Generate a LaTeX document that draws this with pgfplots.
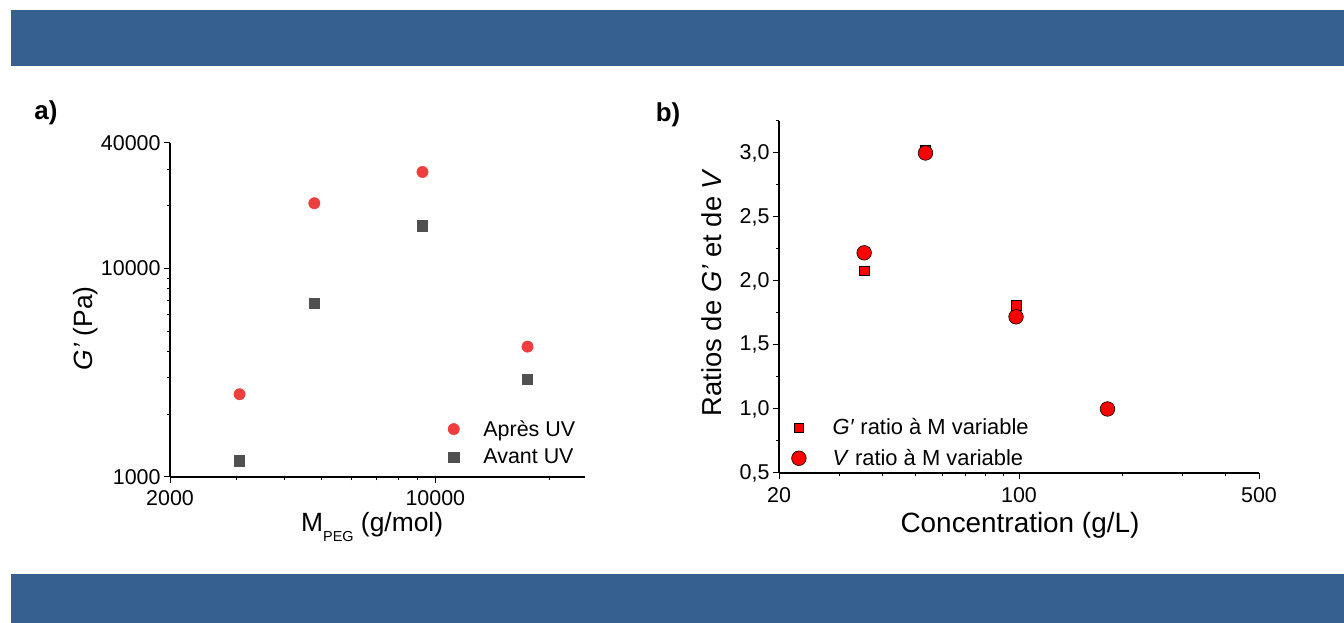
\documentclass[border=0pt]{standalone}
\usepackage{fontspec}
\setmainfont{Liberation Sans}
\usepackage{pgfplots}
\pgfplotsset{compat=1.18}

\definecolor{barblue}{RGB}{54,96,143}
\definecolor{ptred}{RGB}{239,62,64}
\definecolor{ptgrey}{RGB}{80,80,80}

\newcommand{\fs}[1]{\fontsize{#1}{#1}\selectfont}

\pgfplotsset{
  ptsL/.style={only marks, legend image code/.code={\draw[mark repeat=2,mark phase=2,##1] plot coordinates {(0bp,0bp)(14bp,0bp)(28bp,0bp)};\path (0bp,0bp) (42bp,0bp);}},
  ptsR/.style={only marks, legend image code/.code={\draw[mark repeat=2,mark phase=2,##1] plot coordinates {(0bp,0bp)(16bp,0bp)(32bp,0bp)};\path (0bp,0bp) (48bp,0bp);}},
  panel/.style={
    scale only axis,
    axis x line*=bottom, axis y line*=left,
    axis line style={line width=1.2bp, black},
    tick align=outside,
    major tick length=6bp, minor tick length=3.5bp,
    every tick/.style={black, line width=1bp},
    tick label style={font=\fs{21.5}},
    legend cell align=left,
  },
}

\begin{document}
\begin{tikzpicture}[x=1bp,y=1bp]
\useasboundingbox (0,0) rectangle (1344,623);
% bandeaux
\fill[barblue] (11,557) rectangle (1344,613);
\fill[barblue] (11,0) rectangle (1344,49);

\node[font=\fs{26}\bfseries] at (46,510) {a)};
\node[font=\fs{26}\bfseries] at (668,508) {b)};

% a) G' en fonction de M_PEG
\begin{axis}[panel,
  at={(170bp,146bp)}, anchor=south west,
  width=415bp, height=334bp,
  xmode=log, ymode=log,
  xmin=2000, xmax=24800, ymin=1000, ymax=40000,
  xtick={2000,10000}, xticklabels={2000,10000},
  minor xtick={3000,4000,5000,6000,7000,8000,9000,20000},
  ytick={1000,10000,40000}, yticklabels={1000,10000,40000},
  minor ytick={2000,3000,4000,5000,6000,7000,8000,9000,20000,30000},
  xticklabel style={yshift=-4bp},
  xlabel={M\raisebox{-10bp}{\fs{14.5}PEG} (g/mol)},
  xlabel style={at={(axis description cs:0.487,0)}, anchor=base, yshift=-55bp, font=\fs{26.5}},
  ylabel={\textit{G’} (Pa)},
  ylabel style={at={(axis description cs:-0.2024,0.4446)}, anchor=center, font=\fs{26.5}},
  legend style={at={(axis description cs:0.649,0.031)}, anchor=south west,
    draw=none, fill=none, font=\fs{21.5}, row sep=8bp, inner sep=0bp,
    nodes={inner sep=1.5bp}},
]
\addplot[ptsL, mark=*, color=ptred, mark size=5.7bp]
  coordinates {(3050,2494) (4800,20560) (9250,29040) (17500,4220)};
\addlegendentry{Après UV}
\addplot[ptsL, mark=square*, color=ptgrey, mark size=5.1bp]
  coordinates {(3050,1197) (4800,6810) (9250,16030) (17500,2950)};
\addlegendentry{Avant UV}
\end{axis}

% b) ratios en fonction de la concentration
\begin{axis}[panel,
  at={(779bp,150bp)}, anchor=south west,
  width=480bp, height=352bp,
  xmode=log,
  xmin=20, xmax=500, ymin=0.5, ymax=3.25,
  xtick={20,100,500}, xticklabels={20,100,500},
  minor xtick={30,40,50,60,70,80,90,200,300,400},
  ytick={0.5,1,1.5,2,2.5,3}, yticklabels={{0,5},{1,0},{1,5},{2,0},{2,5},{3,0}},
  minor ytick={0.75,1.25,1.75,2.25,2.75,3.25},
  xticklabel style={yshift=-5bp},
  xlabel={Concentration (g/L)},
  xlabel style={at={(axis description cs:0.502,0)}, anchor=base, yshift=-60bp, font=\fs{28}},
  ylabel={Ratios de \textit{G’} et de \textit{V}},
  ylabel style={at={(axis description cs:-0.1396,0.5128)}, anchor=center, font=\fs{27.5}},
  legend style={at={(axis description cs:0.0073,0.012)}, anchor=south west,
    draw=none, fill=none, font=\fs{22}, row sep=10bp, inner sep=0bp,
    nodes={inner sep=1.5bp}},
]
\addplot[ptsR, mark=square*, mark size=4.8bp, mark options={draw=black, fill=red, line width=0.5bp}]
  coordinates {(35.4,2.08) (53.4,3.02) (98,1.81)};
\addlegendentry{\textit{G′} ratio à M variable}
\addplot[ptsR, mark=*, mark size=7.3bp, mark options={draw=black, fill=red, line width=0.6bp}]
  coordinates {(35.4,2.22) (53.4,3.0) (98,1.72) (181,1.0)};
\addlegendentry{\textit{V} ratio à M variable}
\end{axis}
\end{tikzpicture}
\end{document}
